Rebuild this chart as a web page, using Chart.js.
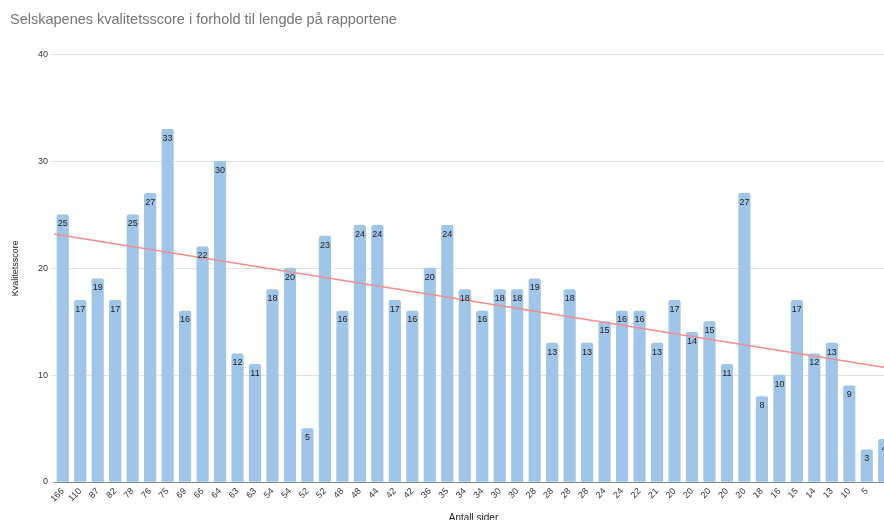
<!DOCTYPE html>
<html>
<head>
<meta charset="utf-8">
<script src="https://cdn.jsdelivr.net/npm/chart.js@4"></script>
<style>
  html, body { margin: 0; padding: 0; background: #fff; overflow: hidden; }
  #chart { position: absolute; left: 0; top: 0; }
</style>
</head>
<body>
<canvas id="chart" width="900" height="528"></canvas>
<script>
// Antall sider per rapport (siste søyle er kuttet i bildet)
const pages = ['166', '110', '87', '82', '78', '76', '75', '69', '66', '64', '63', '63',
    '54', '54', '52', '52', '48', '48', '44', '42', '42', '36', '35', '34', '34', '30', '30',
    '28', '28', '28', '28', '24', '24', '22', '21', '20', '20', '20', '20', '20', '18', '16',
    '15', '14', '13', '10', '5', ''];

// Kvalitetsscore
const scores = [25, 17, 19, 17, 25, 27, 33, 16, 22, 30, 12, 11, 18, 20, 5, 23, 16, 24, 24,
    17, 16, 20, 24, 18, 16, 18, 18, 19, 13, 18, 13, 15, 16, 16, 13, 17, 14, 15, 11, 27, 8,
    10, 17, 12, 13, 9, 3, 4];

// Trendlinje, start og slutt
const trendX = [-0.5, 47.5];
const trendY = [23.2, 10.6];

const yTicks = [0, 10, 20, 30, 40];

// Tall inne i toppen av søylene
const valueLabels = {
    id: 'valueLabels',
    afterDatasetsDraw(chart) {
        const ctx = chart.ctx;
        const meta = chart.getDatasetMeta(0);
        ctx.save();
        ctx.font = '9px "Liberation Sans", Arial, sans-serif';
        ctx.fillStyle = '#222';
        ctx.textAlign = 'center';
        ctx.textBaseline = 'middle';
        meta.data.forEach((bar, i) => {
            ctx.fillText(String(scores[i]), bar.x, bar.y + 9);
        });
        ctx.restore();
    }
};

const ctx = document.getElementById('chart').getContext('2d');
new Chart(ctx, {
    type: 'bar',
    data: {
        labels: pages,
        datasets: [{
            type: 'bar',
            data: scores,
            backgroundColor: 'rgb(159, 197, 232)',
            borderRadius: 2,
            barThickness: 11.5,
            grouped: false,
            order: 2
        }, {
            type: 'line',
            data: trendX.map((x, i) => ({ x: x, y: trendY[i] })),
            xAxisID: 'x2',
            borderColor: 'rgb(245, 140, 140)',
            borderWidth: 1.5,
            pointRadius: 0,
            fill: false,
            order: 1
        }]
    },
    options: {
        responsive: false,
        animation: false,
        layout: { padding: { left: 10, right: 7, top: 0, bottom: 0 } },
        plugins: {
            legend: { display: false },
            tooltip: { enabled: false },
            title: {
                display: true,
                text: 'Selskapenes kvalitetsscore i forhold til lengde på rapportene',
                align: 'start',
                color: '#757575',
                font: { family: '"Liberation Sans", Arial, sans-serif', size: 14.5, weight: 'normal' },
                padding: { top: 11, bottom: 26 }
            }
        },
        scales: {
            x: {
                type: 'category',
                offset: true,
                grid: { display: false, drawTicks: false, offset: true },
                border: { display: true, color: '#888', width: 1 },
                ticks: {
                    autoSkip: false,
                    maxRotation: 45,
                    minRotation: 45,
                    padding: 4,
                    color: '#333',
                    font: { family: '"Liberation Sans", Arial, sans-serif', size: 9 }
                },
                title: {
                    display: true,
                    text: 'Antall sider',
                    color: '#222',
                    font: { family: '"Liberation Sans", Arial, sans-serif', size: 10 },
                    padding: { top: 0, bottom: 4 }
                },
                afterFit(scale) { scale.height = 46; }
            },
            x2: {
                type: 'linear',
                display: false,
                offset: false,
                grid: { offset: false },
                min: -0.5,
                max: 47.5
            },
            y: {
                min: 0,
                max: 40,
                afterBuildTicks(scale) { scale.ticks = yTicks.map(v => ({ value: v })); },
                grid: { color: '#e2e2e2', tickLength: 3, drawOnChartArea: true },
                border: { display: false },
                ticks: {
                    padding: 3,
                    color: '#333',
                    font: { family: '"Liberation Sans", Arial, sans-serif', size: 9 }
                },
                title: {
                    display: true,
                    text: 'Kvalitetsscore',
                    color: '#222',
                    font: { family: '"Liberation Sans", Arial, sans-serif', size: 9 },
                    padding: { top: 0, bottom: 8 }
                },
                afterFit(scale) { scale.width = 44; }
            }
        }
    },
    plugins: [valueLabels]
});
</script>
</body>
</html>
